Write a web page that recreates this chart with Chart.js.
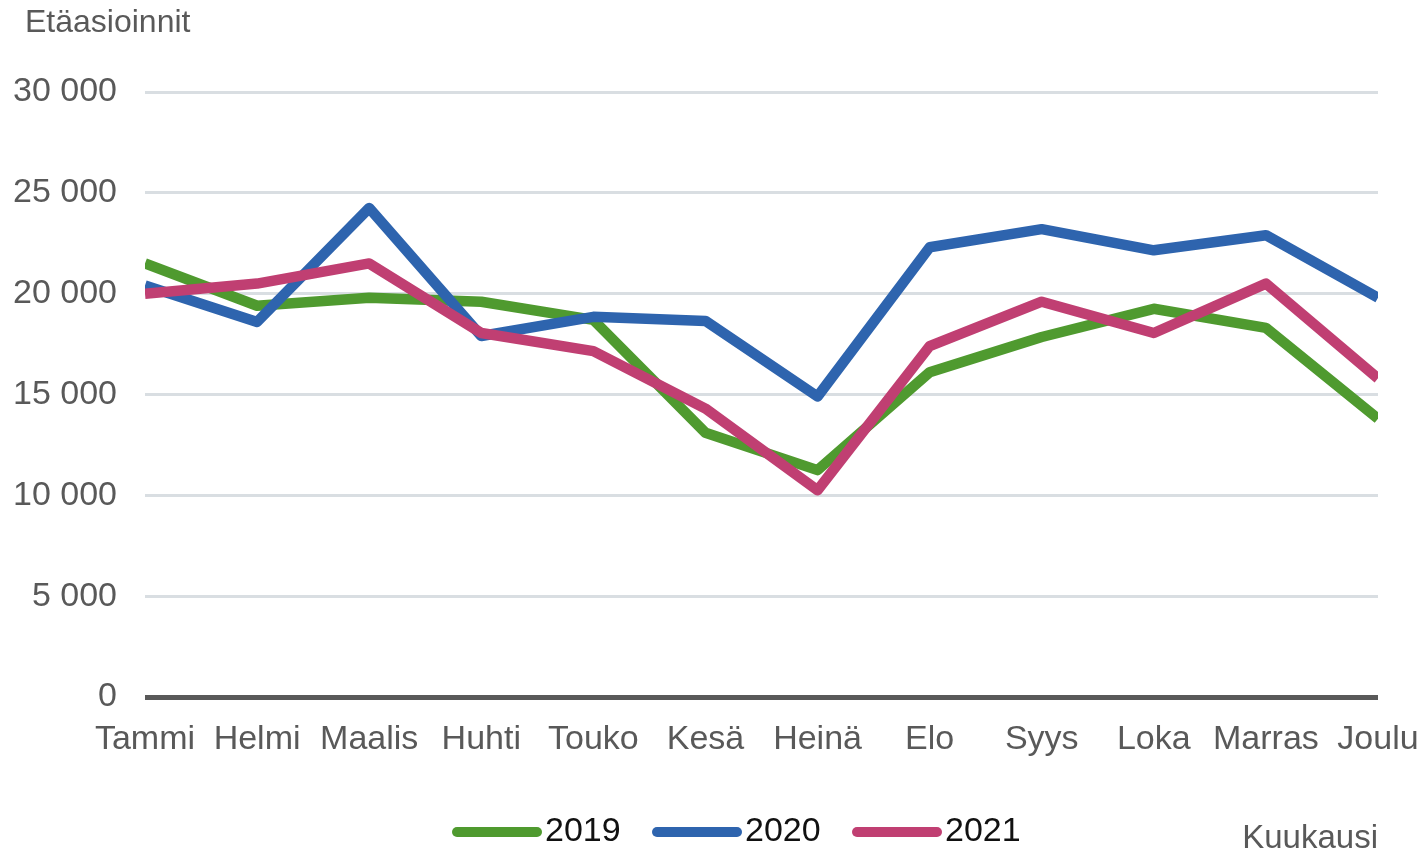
<!DOCTYPE html>
<html>
<head>
<meta charset="utf-8">
<script src="https://cdn.jsdelivr.net/npm/chart.js@4"></script>
<style>
  html, body { margin: 0; padding: 0; background: #fff; }
  canvas { display: block; }
</style>
</head>
<body>
<canvas id="myChart" width="1425" height="853"></canvas>
<script>
(function () {
  'use strict'

  var months = ['Tammi', 'Helmi', 'Maalis', 'Huhti', 'Touko', 'Kesä', 'Heinä', 'Elo', 'Syys', 'Loka', 'Marras', 'Joulu']
  var years = ['2019', '2020', '2021']
  var data2019 = [21500, 19400, 19800, 19600, 18700, 13100, 11250, 16100, 17850, 19250, 18300, 13800]
  var data2020 = [20400, 18600, 24250, 17900, 18850, 18650, 14900, 22300, 23200, 22150, 22900, 19800]
  var data2021 = [20000, 20500, 21500, 18050, 17150, 14300, 10250, 17400, 19600, 18050, 20500, 15800]
  var yTicks = [0, 5000, 10000, 15000, 20000, 25000, 30000]

  var FONT = "'Liberation Sans', Arial, sans-serif"
  var GRAY = '#595959'

  function fmt (v) {
    return String(v).replace(/\B(?=(\d{3})+(?!\d))/g, ' ')
  }

  // axis caption texts and a hand drawn legend
  var extras = {
    id: 'extras',
    afterDraw: function (chart) {
      var c = chart.ctx
      c.save()
      c.fillStyle = GRAY
      c.textBaseline = 'middle'
      c.textAlign = 'left'
      c.font = '32px ' + FONT
      c.fillText('Etäasioinnit', 25, 23)
      c.textAlign = 'right'
      c.font = '33px ' + FONT
      c.fillText('Kuukausi', chart.chartArea.right, 839)

      var x = 457
      var y = 832
      c.font = '34px ' + FONT
      chart.data.datasets.forEach(function (ds) {
        c.strokeStyle = ds.borderColor
        c.lineWidth = 10
        c.lineCap = 'round'
        c.beginPath()
        c.moveTo(x, y)
        c.lineTo(x + 80, y)
        c.stroke()
        c.fillStyle = '#111'
        c.textAlign = 'left'
        c.fillText(ds.label, x + 88, y)
        x += 200
      })
      c.restore()
    }
  }

  function line (label, values, color, order) {
    return {
      label: label,
      data: values,
      borderColor: color,
      backgroundColor: color,
      borderWidth: 10.5,
      borderJoinStyle: 'round',
      borderCapStyle: 'butt',
      pointRadius: 0,
      pointHoverRadius: 0,
      tension: 0,
      fill: false,
      order: order,
      clip: { left: 0, right: 0, top: 8, bottom: 8 }
    }
  }

  var ctx = document.getElementById('myChart')
  // eslint-disable-next-line no-unused-vars
  var myChart = new Chart(ctx, {
    type: 'line',
    data: {
      labels: months,
      datasets: [
        line(years[0], data2019, '#4f9a2f', 2),
        line(years[1], data2020, '#2e64ae', 1),
        line(years[2], data2021, '#c03f72', 0)
      ]
    },
    plugins: [extras],
    options: {
      responsive: false,
      animation: false,
      devicePixelRatio: 1,
      layout: { padding: { top: 92, right: 47, bottom: 0, left: 0 } },
      plugins: {
        legend: { display: false },
        tooltip: { enabled: false }
      },
      scales: {
        x: {
          offset: false,
          afterFit: function (scale) {
            scale.height = 156
            scale.paddingLeft = 0
            scale.paddingRight = 0
          },
          grid: { display: false, drawTicks: false },
          border: { display: false },
          ticks: {
            color: GRAY,
            font: { family: FONT, size: 34 },
            padding: 22,
            maxRotation: 0,
            autoSkip: false
          }
        },
        y: {
          min: 0,
          max: 30000,
          afterFit: function (scale) { scale.width = 145 },
          afterBuildTicks: function (scale) {
            scale.ticks = yTicks.map(function (v) { return { value: v } })
          },
          border: { display: false },
          grid: {
            drawTicks: false,
            color: function (c) { return c.tick && c.tick.value === 0 ? GRAY : '#d9dee2' },
            lineWidth: function (c) { return c.tick && c.tick.value === 0 ? 5 : 3 }
          },
          ticks: {
            color: GRAY,
            font: { family: FONT, size: 34 },
            padding: 28,
            callback: function (v) { return fmt(v) }
          }
        }
      }
    }
  })
}())
</script>
</body>
</html>
